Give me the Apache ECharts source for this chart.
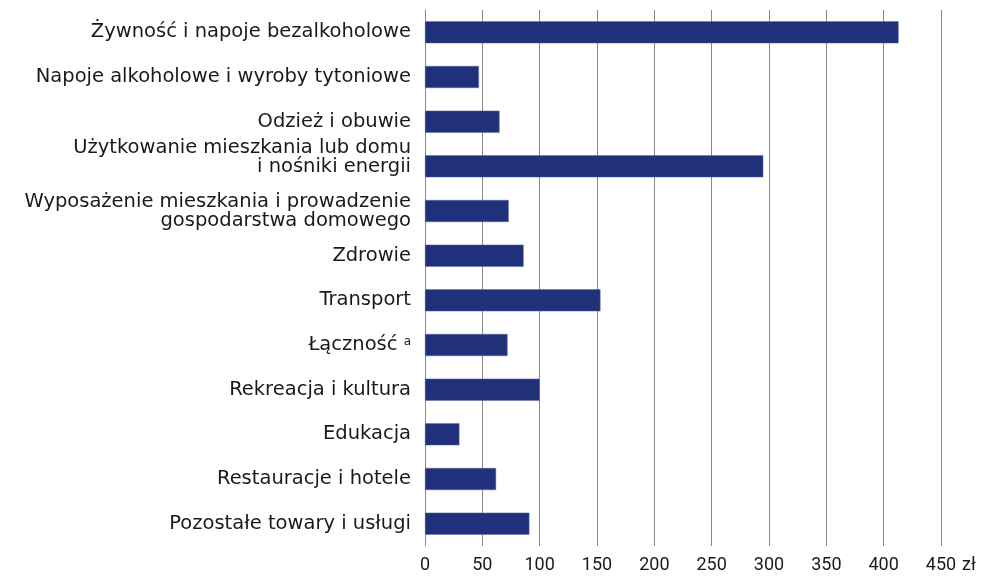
<!DOCTYPE html>
<html>
<head>
<meta charset="utf-8">
<script src="https://cdn.jsdelivr.net/npm/echarts@6/dist/echarts.min.js"></script>
<style>html,body{margin:0;padding:0;background:#fff;}#c{width:983px;height:579px;}</style>
</head>
<body>
<div id="c"></div>
<script>
const categories = [
  "Żywność i napoje bezalkoholowe",
  "Napoje alkoholowe i wyroby tytoniowe",
  "Odzież i obuwie",
  "Użytkowanie mieszkania lub domu\ni nośniki energii",
  "Wyposażenie mieszkania i prowadzenie\ngospodarstwa domowego",
  "Zdrowie",
  "Transport",
  "Łączność",
  "Rekreacja i kultura",
  "Edukacja",
  "Restauracje i hotele",
  "Pozostałe towary i usługi"
];
const values = [413, 47, 65, 295, 73, 86, 153, 72, 100, 30, 62, 91];
const xTicks = [0, 50, 100, 150, 200, 250, 300, 350, 400, 450];
const unitLabel = "zł";

const FONT = "'DejaVu Sans', 'Noto Sans', sans-serif";
const TICKFONT = "Roboto, 'Noto Sans', sans-serif";

const catData = categories.map(function (c, i) {
  return i === 3 ? {value: c, textStyle: {padding: [0, 0, 17, 0]}} : c;
});

const chart = echarts.init(document.getElementById('c'), null, {renderer: 'canvas'});
chart.setOption({
  animation: false,
  grid: {left: 425, right: 42, top: 10, bottom: 33, containLabel: false},
  xAxis: {
    type: 'value',
    min: xTicks[0],
    max: xTicks[xTicks.length - 1],
    interval: 50,
    axisLine: {show: false},
    axisTick: {show: false},
    splitLine: {show: true, lineStyle: {color: '#8a8a8a', width: 1}},
    axisLabel: {color: '#1a1a1a', fontSize: 18, fontFamily: TICKFONT, margin: 10},
    name: unitLabel,
    nameLocation: 'end',
    nameGap: 16,
    nameTextStyle: {color: '#1a1a1a', fontSize: 18, fontFamily: TICKFONT, align: 'left', verticalAlign: 'top', padding: [10, 0, 0, 0]}
  },
  yAxis: {
    type: 'category',
    data: catData,
    inverse: true,
    axisLine: {show: true, lineStyle: {color: '#8a8a8a', width: 1}},
    axisTick: {show: false},
    axisLabel: {
      color: '#1a1a1a', fontSize: 19.5, fontFamily: FONT, margin: 14, lineHeight: 19, align: 'right',
      formatter: function (v) { return v === 'Łączność' ? v + ' {sup|a}' : v; },
      rich: {sup: {fontSize: 12, fontFamily: FONT, color: '#1a1a1a', verticalAlign: 'top', padding: [0, 0, 10, 0]}}
    }
  },
  series: [{
    type: 'bar',
    data: values,
    barWidth: 22,
    itemStyle: {color: '#21307a', borderColor: '#5a66a0', borderWidth: 0.5}
  }]
});
</script>
</body>
</html>
